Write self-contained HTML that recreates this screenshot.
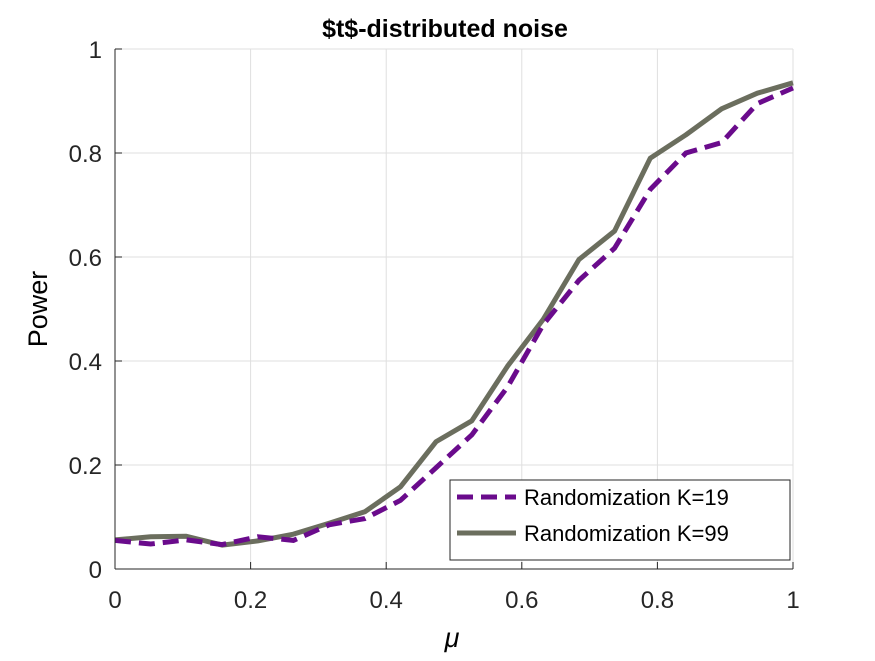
<!DOCTYPE html>
<html><head><meta charset="utf-8"><style>
body{margin:0;background:#fff;}
svg text{font-family:"Liberation Sans",sans-serif;}
</style></head><body>
<svg id="chart" width="875" height="656">
<g id="grid"></g>
<g id="series"></g>
<g id="axes"></g>
<text x="445" y="37" text-anchor="middle" font-size="25" font-weight="bold">$t$-distributed noise</text>
<text x="452" y="647" text-anchor="middle" font-size="27" font-style="italic" font-family="Liberation Serif">μ</text>
<text transform="translate(47,309) rotate(-90)" text-anchor="middle" font-size="27">Power</text>
<g>
<rect x="450" y="480" width="340" height="80" fill="#fff" stroke="#262626" stroke-width="1"/>
<g>
<line x1="457" y1="497" x2="516" y2="497" stroke="#6a0b8c" stroke-width="5" stroke-dasharray="16,8"/>
<text x="524" y="505" font-size="22">Randomization K=19</text></g>
<g>
<line x1="457" y1="533" x2="516" y2="533" stroke="#6b6e5e" stroke-width="5"/>
<text x="524" y="541" font-size="22">Randomization K=99</text></g>
</g>
</svg>
<script>
const xValues=[0,1/19,2/19,3/19,4/19,5/19,6/19,7/19,8/19,9/19,10/19,11/19,12/19,13/19,14/19,15/19,16/19,17/19,18/19,1];
const k19=[0.055,0.048,0.056,0.047,0.062,0.055,0.085,0.097,0.132,0.195,0.258,0.35,0.47,0.555,0.617,0.73,0.80,0.82,0.895,0.925];
const k99=[0.056,0.062,0.063,0.046,0.054,0.067,0.088,0.11,0.158,0.245,0.285,0.39,0.48,0.595,0.65,0.79,0.835,0.885,0.915,0.935];
const xTicks=[0,0.2,0.4,0.6,0.8,1];
const yTicks=[0,0.2,0.4,0.6,0.8,1];
const xTickLabels=["0","0.2","0.4","0.6","0.8","1"];
const yTickLabels=["0","0.2","0.4","0.6","0.8","1"];
const X0=115,X1=793,Y0=569,Y1=49;
const sx=v=>X0+(X1-X0)*v, sy=v=>Y0-(Y0-Y1)*v;
const NS="http://www.w3.org/2000/svg";
function mk(t,a,p){const e=document.createElementNS(NS,t);for(const k in a)e.setAttribute(k,a[k]);p.appendChild(e);return e;}
const grid=document.getElementById('grid'),axes=document.getElementById('axes'),ser=document.getElementById('series');
xTicks.forEach((t,i)=>{
 const g=mk('line',{x1:sx(t),x2:sx(t),y1:Y1,y2:Y0,stroke:'#dfdfdf','stroke-width':1},grid);
 
 
 mk('line',{x1:sx(t),x2:sx(t),y1:Y0,y2:Y0-7,stroke:'#262626'},axes);
 const tx=mk('text',{x:sx(t),y:Y0+39,'text-anchor':'middle','font-size':24,fill:'#262626'},axes);
 tx.textContent=xTickLabels[i];
 
 
});
yTicks.forEach((t,i)=>{
 const g=mk('line',{x1:X0,x2:X1,y1:sy(t),y2:sy(t),stroke:'#dfdfdf','stroke-width':1},grid);
 
 
 mk('line',{x1:X0,x2:X0+7,y1:sy(t),y2:sy(t),stroke:'#262626'},axes);
 const tx=mk('text',{x:X0-13,y:sy(t)+9,'text-anchor':'end','font-size':24,fill:'#262626'},axes);
 tx.textContent=yTickLabels[i];
 
 
});
mk('line',{x1:X0,x2:X1,y1:Y0,y2:Y0,stroke:'#262626'},axes);
mk('line',{x1:X0,x2:X0,y1:Y0,y2:Y1,stroke:'#262626'},axes);
function pts(arr){return arr.map((v,i)=>sx(xValues[i])+','+sy(v)).join(' ');}
const l99=mk('polyline',{points:pts(k99),fill:'none',stroke:'#6b6e5e','stroke-width':5,'stroke-linejoin':'round'},ser);


const l19=mk('polyline',{points:pts(k19),fill:'none',stroke:'#6a0b8c','stroke-width':5,'stroke-dasharray':'16,8'},ser);


</script>
</body></html>
